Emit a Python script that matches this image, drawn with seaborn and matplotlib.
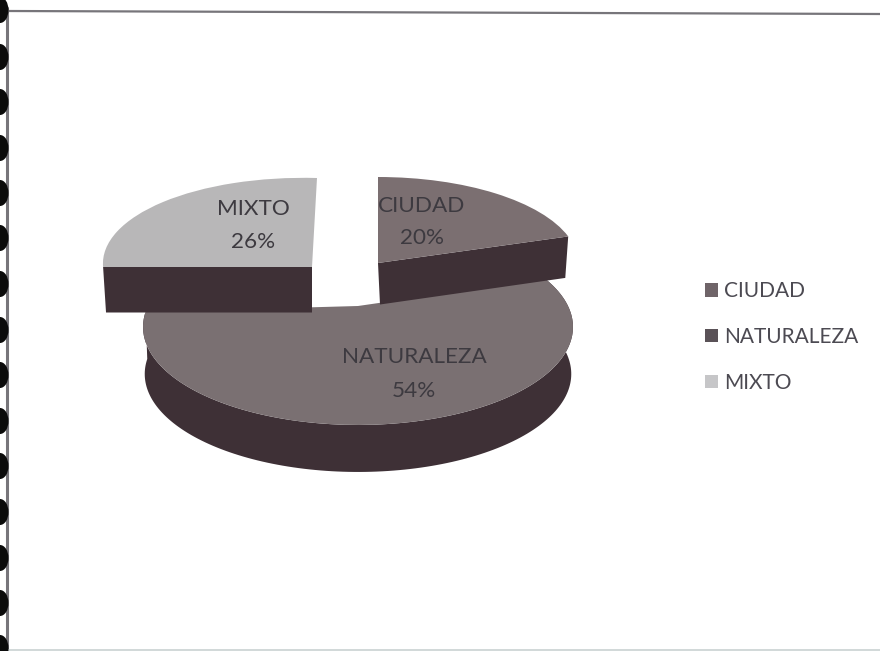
import numpy as np
import matplotlib
matplotlib.use("Agg")
import matplotlib.pyplot as plt
from matplotlib.patches import Ellipse, Patch, Polygon
from matplotlib.transforms import Transform
import seaborn as sns

categories = ["CIUDAD", "NATURALEZA", "MIXTO"]
shares = [20, 54, 26]
top_colors = ["#7b6f71", "#7a7072", "#b8b7b8"]
wall_color = "#3e3036"
legend_colors = ["#6f6468", "#5a5257", "#c6c6c8"]
ring_rows = [10, 57, 102, 148, 193, 238, 284, 330, 375, 421, 466, 512, 558, 603, 648]


class Camera(Transform):
    """Projects the unit disc of a pie slice onto the page with a tilted view."""
    input_dims = 2
    output_dims = 2

    def __init__(self, x0, y0, a, b, k=0.0, shear=0.0, skew=0.0):
        super().__init__()
        self.p = (x0, y0, a, b, k, shear, skew)

    def transform_non_affine(self, values):
        x0, y0, a, b, k, shear, skew = self.p
        u, v = np.asarray(values, float).T
        w = 1 + k * v
        return np.column_stack([x0 + a * u / w + shear * v, y0 - b * v / w + skew * u])


def extrude(points, depth, pivot, taper):
    low = points.copy()
    low[:, 0] = pivot + (low[:, 0] - pivot) * taper
    low[:, 1] += depth
    return np.vstack([points, low[::-1]])


def disc(theta_deg):
    t = np.radians(theta_deg)
    return np.column_stack([np.cos(t), np.sin(t)])


sns.set_theme(style="white")
plt.rcParams["font.family"] = ["Lato", "DejaVu Sans"]

fig = plt.figure(figsize=(8.8, 6.51), dpi=100, facecolor="white")
ax = fig.add_axes([0, 0, 1, 1])

wedges, _ = ax.pie(shares, startangle=90, counterclock=False,
                   colors=sns.color_palette(top_colors), radius=1)
ax.set_aspect("auto")
ax.set_xlim(0, 880)
ax.set_ylim(651, 0)
ax.axis("off")

cameras = {
    "CIUDAD": Camera(378, 263, 200, 86),
    "NATURALEZA": Camera(358, 306, 210, 93.5, k=0.214),
    "MIXTO": Camera(312, 267, 209, 89, shear=5, skew=5.6),
}

# Side walls: the straight cut on the two upper slices, the outer rim on the large one.
ciudad, naturaleza, mixto = wedges
apex = np.array([[0.0, 0.0]])

rim = cameras["NATURALEZA"].transform(disc(np.linspace(naturaleza.theta1, naturaleza.theta2, 160)))
ax.add_patch(Polygon(extrude(rim, 47, 358, 0.992), closed=True, fc=wall_color, ec="none", zorder=1))
naturaleza.set_transform(cameras["NATURALEZA"] + ax.transData)
naturaleza.set_zorder(2)

cut = np.vstack([apex, disc(np.array([ciudad.theta1]))])
ax.add_patch(Polygon(extrude(cameras["CIUDAD"].transform(cut), 41.5, 455, 0.974),
                     closed=True, fc=wall_color, ec="none", zorder=3))
ciudad.set_transform(cameras["CIUDAD"] + ax.transData)
ciudad.set_zorder(4)

cut = np.vstack([apex, disc(np.array([mixto.theta2]))])
ax.add_patch(Polygon(extrude(cameras["MIXTO"].transform(cut), 45.5, 312, 0.986),
                     closed=True, fc=wall_color, ec="none", zorder=3))
mixto.set_transform(cameras["MIXTO"] + ax.transData)
mixto.set_zorder(4)

for w in wedges:
    w.set_edgecolor("none")

# Slice labels
label_xy = {"CIUDAD": (422, 206, 238), "NATURALEZA": (414, 357, 391), "MIXTO": (253, 209, 242)}
for name, value in zip(categories, shares):
    x, y1, y2 = label_xy[name]
    ax.text(x, y1, name, ha="center", va="center", fontsize=16.2, color="#3d3a40", zorder=6)
    ax.text(x, y2, f"{value}%", ha="center", va="center", fontsize=16.2, color="#3d3a40", zorder=6)

ax.legend(
    handles=[Patch(fc=c, ec="none", label=n) for c, n in zip(legend_colors, categories)],
    loc="center left", bbox_to_anchor=(705 / 880, 1 - 337 / 651), frameon=False,
    fontsize=15, labelcolor="#4c4a52", handlelength=0.62, handleheight=0.62,
    handletextpad=0.29, labelspacing=1.24, borderpad=0, borderaxespad=0,
)

# Page edges and the binding rings down the left margin
ax.plot([7, 7], [8, 651], color="#77757a", lw=2.2, zorder=7)
ax.plot([7, 880], [11, 14], color="#77757a", lw=1.6, zorder=7)
ax.plot([7, 880], [649.5, 649.5], color="#c9d2d2", lw=1.2, zorder=7)
for y in ring_rows:
    ax.add_patch(Ellipse((0, y), 17, 26, fc="#0b0b0b", ec="none", zorder=8))

fig.savefig("out.png", dpi=100, facecolor="white")
